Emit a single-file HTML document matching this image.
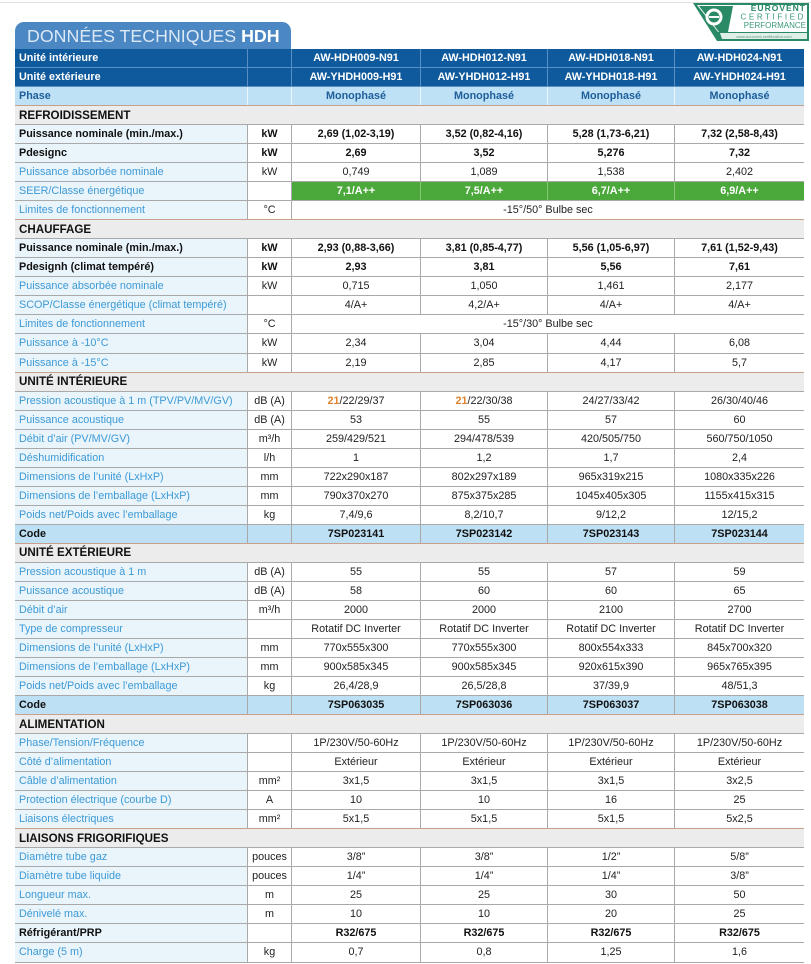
<!DOCTYPE html>
<html><head><meta charset="utf-8">
<style>
html,body{margin:0;padding:0;background:#fff;}
body{width:811px;height:964px;position:relative;overflow:hidden;font-family:"Liberation Sans",Arial,sans-serif;}
.topline{position:absolute;left:0;top:2px;width:811px;height:1px;background:#e2e2e2;}
.tab{position:absolute;left:15px;top:22px;width:276px;height:27px;background:#4b87c3;border-radius:9px 9px 0 0;}
.tab div{position:absolute;left:12px;top:3px;line-height:22px;font-size:17.8px;color:#dbe8f5;white-space:nowrap;}
.tab b{color:#fff;}
.tbl{position:absolute;left:15px;top:49px;width:789px;}
.row{display:flex;height:19.04px;box-sizing:border-box;border-bottom:1px solid #a9a9a9;}
.row>span{display:flex;align-items:center;justify-content:center;box-sizing:border-box;border-right:1px solid #a9a9a9;height:100%;white-space:nowrap;font-size:10.8px;color:#222;overflow:hidden;}
.row>span:last-child{border-right:none;}
.row>span.l{width:233px;justify-content:flex-start;padding-left:4px;background:#e9f4fb;color:#3d9ad6;}
.u{width:44px;}
.a{width:129px;}
.b{width:127px;}
.m{width:512px;}
.bd>span{font-weight:bold;color:#111;}
.row.bd>span.l{color:#111;}
.hd{background:#0f5a9c;border-bottom:1px solid #5a8fc3;}
.hd>span,.row.hd>span.l{background:#0f5a9c;color:#fff;font-weight:bold;border-right-color:#5a8fc3;}
.ph{background:#bfe1f5;border-bottom:1px solid #a9a9a9;}
.ph>span,.row.ph>span.l{background:#bfe1f5;color:#1d5e9b;font-weight:bold;border-right-color:#eaf5fc;}
.cd>span,.row.cd>span.l{background:#bde0f4;color:#111;font-weight:bold;}
.g>span.v{background:#4ba83a;color:#fff;font-weight:bold;border-right-color:#86c677;}
.sec{height:20.04px;margin-top:-1px;box-sizing:border-box;border-top:1px solid #c8a08c;border-bottom:1px solid #a9a9a9;background:#ececec;font-weight:bold;font-size:11.6px;color:#111;padding-left:4px;display:flex;align-items:center;}
.o{color:#e0832c;font-weight:bold;}
</style></head><body>
<div class="topline"></div>
<div class="tab"><div>DONNÉES TECHNIQUES <b>HDH</b></div></div>

<svg style="position:absolute;left:690px;top:0" width="121" height="45" viewBox="690 0 121 45">
<polygon points="693,3 809,3 809,41 717,41" fill="#2a8a66"/>
<polygon points="697,5 807,5 807,32 718,32" fill="#ffffff"/>
<polygon points="699,6 733,6 728,32 719,32" fill="#2a8a66"/>
<circle cx="714" cy="17" r="8.5" fill="#ffffff"/>
<circle cx="714" cy="17" r="5.5" fill="#2a8a66"/>
<rect x="709" y="16" width="10" height="2" fill="#ffffff"/>
<polygon points="720,33 807,33 807,39 722,39" fill="#dfeee7"/>
<text x="806" y="11" font-family="Liberation Sans,Arial,sans-serif" font-size="8.5" font-weight="bold" fill="#2a8a66" text-anchor="end" letter-spacing="1">EUROVENT</text>
<text x="806" y="19.5" font-family="Liberation Sans,Arial,sans-serif" font-size="8" fill="#3a9a76" text-anchor="end" letter-spacing="2.6">CERTIFIED</text>
<text x="806" y="28" font-family="Liberation Sans,Arial,sans-serif" font-size="8" fill="#3a9a76" text-anchor="end">PERFORMANCE</text>
<text x="764" y="38" font-family="Liberation Sans,Arial,sans-serif" font-size="4" fill="#6a9a86" text-anchor="middle">www.eurovent-certification.com</text>
</svg>

<div class="tbl">
<div class="row hd"><span class="l">Unité intérieure</span><span class="u"></span><span class="a">AW-HDH009-N91</span><span class="b">AW-HDH012-N91</span><span class="b">AW-HDH018-N91</span><span class="a">AW-HDH024-N91</span></div>
<div class="row hd"><span class="l">Unité extérieure</span><span class="u"></span><span class="a">AW-YHDH009-H91</span><span class="b">AW-YHDH012-H91</span><span class="b">AW-YHDH018-H91</span><span class="a">AW-YHDH024-H91</span></div>
<div class="row ph"><span class="l">Phase</span><span class="u"></span><span class="a">Monophasé</span><span class="b">Monophasé</span><span class="b">Monophasé</span><span class="a">Monophasé</span></div>
<div class="sec">REFROIDISSEMENT</div>
<div class="row bd"><span class="l">Puissance nominale (min./max.)</span><span class="u">kW</span><span class="a">2,69 (1,02-3,19)</span><span class="b">3,52 (0,82-4,16)</span><span class="b">5,28 (1,73-6,21)</span><span class="a">7,32 (2,58-8,43)</span></div>
<div class="row bd"><span class="l">Pdesignc</span><span class="u">kW</span><span class="a">2,69</span><span class="b">3,52</span><span class="b">5,276</span><span class="a">7,32</span></div>
<div class="row"><span class="l">Puissance absorbée nominale</span><span class="u">kW</span><span class="a">0,749</span><span class="b">1,089</span><span class="b">1,538</span><span class="a">2,402</span></div>
<div class="row g"><span class="l">SEER/Classe énergétique</span><span class="u"></span><span class="a v">7,1/A++</span><span class="b v">7,5/A++</span><span class="b v">6,7/A++</span><span class="a v">6,9/A++</span></div>
<div class="row"><span class="l">Limites de fonctionnement</span><span class="u">°C</span><span class="m">-15°/50° Bulbe sec</span></div>
<div class="sec">CHAUFFAGE</div>
<div class="row bd"><span class="l">Puissance nominale (min./max.)</span><span class="u">kW</span><span class="a">2,93 (0,88-3,66)</span><span class="b">3,81 (0,85-4,77)</span><span class="b">5,56 (1,05-6,97)</span><span class="a">7,61 (1,52-9,43)</span></div>
<div class="row bd"><span class="l">Pdesignh (climat tempéré)</span><span class="u">kW</span><span class="a">2,93</span><span class="b">3,81</span><span class="b">5,56</span><span class="a">7,61</span></div>
<div class="row"><span class="l">Puissance absorbée nominale</span><span class="u">kW</span><span class="a">0,715</span><span class="b">1,050</span><span class="b">1,461</span><span class="a">2,177</span></div>
<div class="row"><span class="l">SCOP/Classe énergétique (climat tempéré)</span><span class="u"></span><span class="a">4/A+</span><span class="b">4,2/A+</span><span class="b">4/A+</span><span class="a">4/A+</span></div>
<div class="row"><span class="l">Limites de fonctionnement</span><span class="u">°C</span><span class="m">-15°/30° Bulbe sec</span></div>
<div class="row"><span class="l">Puissance à -10°C</span><span class="u">kW</span><span class="a">2,34</span><span class="b">3,04</span><span class="b">4,44</span><span class="a">6,08</span></div>
<div class="row"><span class="l">Puissance à -15°C</span><span class="u">kW</span><span class="a">2,19</span><span class="b">2,85</span><span class="b">4,17</span><span class="a">5,7</span></div>
<div class="sec">UNITÉ INTÉRIEURE</div>
<div class="row"><span class="l">Pression acoustique à 1 m (TPV/PV/MV/GV)</span><span class="u">dB (A)</span><span class="a"><span class="o">21</span>/22/29/37</span><span class="b"><span class="o">21</span>/22/30/38</span><span class="b">24/27/33/42</span><span class="a">26/30/40/46</span></div>
<div class="row"><span class="l">Puissance acoustique</span><span class="u">dB (A)</span><span class="a">53</span><span class="b">55</span><span class="b">57</span><span class="a">60</span></div>
<div class="row"><span class="l">Débit d’air (PV/MV/GV)</span><span class="u">m³/h</span><span class="a">259/429/521</span><span class="b">294/478/539</span><span class="b">420/505/750</span><span class="a">560/750/1050</span></div>
<div class="row"><span class="l">Déshumidification</span><span class="u">l/h</span><span class="a">1</span><span class="b">1,2</span><span class="b">1,7</span><span class="a">2,4</span></div>
<div class="row"><span class="l">Dimensions de l’unité (LxHxP)</span><span class="u">mm</span><span class="a">722x290x187</span><span class="b">802x297x189</span><span class="b">965x319x215</span><span class="a">1080x335x226</span></div>
<div class="row"><span class="l">Dimensions de l’emballage (LxHxP)</span><span class="u">mm</span><span class="a">790x370x270</span><span class="b">875x375x285</span><span class="b">1045x405x305</span><span class="a">1155x415x315</span></div>
<div class="row"><span class="l">Poids net/Poids avec l’emballage</span><span class="u">kg</span><span class="a">7,4/9,6</span><span class="b">8,2/10,7</span><span class="b">9/12,2</span><span class="a">12/15,2</span></div>
<div class="row cd"><span class="l">Code</span><span class="u"></span><span class="a">7SP023141</span><span class="b">7SP023142</span><span class="b">7SP023143</span><span class="a">7SP023144</span></div>
<div class="sec">UNITÉ EXTÉRIEURE</div>
<div class="row"><span class="l">Pression acoustique à 1 m</span><span class="u">dB (A)</span><span class="a">55</span><span class="b">55</span><span class="b">57</span><span class="a">59</span></div>
<div class="row"><span class="l">Puissance acoustique</span><span class="u">dB (A)</span><span class="a">58</span><span class="b">60</span><span class="b">60</span><span class="a">65</span></div>
<div class="row"><span class="l">Débit d’air</span><span class="u">m³/h</span><span class="a">2000</span><span class="b">2000</span><span class="b">2100</span><span class="a">2700</span></div>
<div class="row"><span class="l">Type de compresseur</span><span class="u"></span><span class="a">Rotatif DC Inverter</span><span class="b">Rotatif DC Inverter</span><span class="b">Rotatif DC Inverter</span><span class="a">Rotatif DC Inverter</span></div>
<div class="row"><span class="l">Dimensions de l’unité (LxHxP)</span><span class="u">mm</span><span class="a">770x555x300</span><span class="b">770x555x300</span><span class="b">800x554x333</span><span class="a">845x700x320</span></div>
<div class="row"><span class="l">Dimensions de l’emballage (LxHxP)</span><span class="u">mm</span><span class="a">900x585x345</span><span class="b">900x585x345</span><span class="b">920x615x390</span><span class="a">965x765x395</span></div>
<div class="row"><span class="l">Poids net/Poids avec l’emballage</span><span class="u">kg</span><span class="a">26,4/28,9</span><span class="b">26,5/28,8</span><span class="b">37/39,9</span><span class="a">48/51,3</span></div>
<div class="row cd"><span class="l">Code</span><span class="u"></span><span class="a">7SP063035</span><span class="b">7SP063036</span><span class="b">7SP063037</span><span class="a">7SP063038</span></div>
<div class="sec">ALIMENTATION</div>
<div class="row"><span class="l">Phase/Tension/Fréquence</span><span class="u"></span><span class="a">1P/230V/50-60Hz</span><span class="b">1P/230V/50-60Hz</span><span class="b">1P/230V/50-60Hz</span><span class="a">1P/230V/50-60Hz</span></div>
<div class="row"><span class="l">Côté d’alimentation</span><span class="u"></span><span class="a">Extérieur</span><span class="b">Extérieur</span><span class="b">Extérieur</span><span class="a">Extérieur</span></div>
<div class="row"><span class="l">Câble d’alimentation</span><span class="u">mm²</span><span class="a">3x1,5</span><span class="b">3x1,5</span><span class="b">3x1,5</span><span class="a">3x2,5</span></div>
<div class="row"><span class="l">Protection électrique (courbe D)</span><span class="u">A</span><span class="a">10</span><span class="b">10</span><span class="b">16</span><span class="a">25</span></div>
<div class="row"><span class="l">Liaisons électriques</span><span class="u">mm²</span><span class="a">5x1,5</span><span class="b">5x1,5</span><span class="b">5x1,5</span><span class="a">5x2,5</span></div>
<div class="sec">LIAISONS FRIGORIFIQUES</div>
<div class="row"><span class="l">Diamètre tube gaz</span><span class="u">pouces</span><span class="a">3/8”</span><span class="b">3/8”</span><span class="b">1/2”</span><span class="a">5/8”</span></div>
<div class="row"><span class="l">Diamètre tube liquide</span><span class="u">pouces</span><span class="a">1/4”</span><span class="b">1/4”</span><span class="b">1/4”</span><span class="a">3/8”</span></div>
<div class="row"><span class="l">Longueur max.</span><span class="u">m</span><span class="a">25</span><span class="b">25</span><span class="b">30</span><span class="a">50</span></div>
<div class="row"><span class="l">Dénivelé max.</span><span class="u">m</span><span class="a">10</span><span class="b">10</span><span class="b">20</span><span class="a">25</span></div>
<div class="row bd"><span class="l">Réfrigérant/PRP</span><span class="u"></span><span class="a">R32/675</span><span class="b">R32/675</span><span class="b">R32/675</span><span class="a">R32/675</span></div>
<div class="row"><span class="l">Charge (5 m)</span><span class="u">kg</span><span class="a">0,7</span><span class="b">0,8</span><span class="b">1,25</span><span class="a">1,6</span></div>
</div>
</body></html>
